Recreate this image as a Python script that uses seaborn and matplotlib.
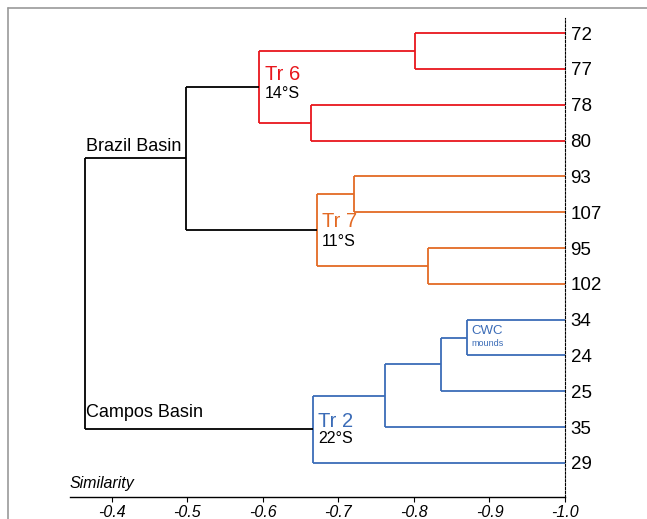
import matplotlib
matplotlib.use('Agg')
import matplotlib.pyplot as plt
import seaborn as sns
from matplotlib.lines import Line2D

# Leaves, top to bottom
leaves = ['72', '77', '78', '80', '93', '107', '95', '102', '34', '24', '25', '35', '29']

# Merges (scipy-like: leaves are 0..12, new nodes get 13, 14, ...)
merge_a = [0, 2, 13, 4, 6, 16, 15, 8, 20, 21, 22, 19]
merge_b = [1, 3, 14, 5, 7, 17, 18, 9, 10, 11, 12, 23]
merge_sim = [-0.801, -0.663, -0.595, -0.720, -0.818, -0.671, -0.498,
             -0.870, -0.836, -0.761, -0.666, -0.364]
merge_group = ['Tr6', 'Tr6', 'Tr6', 'Tr7', 'Tr7', 'Tr7', 'none',
               'Tr2', 'Tr2', 'Tr2', 'Tr2', 'none']

group_colors = {'Tr6': '#e8161c', 'Tr7': '#e36a24', 'Tr2': '#3b6cb7', 'none': 'black'}

x_ticks = [-0.4, -0.5, -0.6, -0.7, -0.8, -0.9, -1.0]

sns.set_theme(style='white')
plt.rcParams['font.family'] = ['Liberation Sans', 'DejaVu Sans']
plt.rcParams['text.color'] = 'black'
plt.rcParams['xtick.color'] = 'black'
plt.rcParams['ytick.color'] = 'black'

fig = plt.figure(figsize=(6.47, 5.19), dpi=100)
ax = fig.add_axes([70 / 647, 1 - 497 / 519, 495 / 647, 479 / 519])

# positions of every node
n = len(leaves)
pos_x = {i: -1.0 for i in range(n)}
pos_y = {i: float(i) for i in range(n)}
for k, (a, b, s) in enumerate(zip(merge_a, merge_b, merge_sim)):
    node = n + k
    pos_x[node] = s
    pos_y[node] = (pos_y[a] + pos_y[b]) / 2

    c = group_colors[merge_group[k]]
    ax.plot([s, s], [pos_y[a], pos_y[b]], color=c, lw=1.3, solid_capstyle='butt')
    for child in (a, b):
        ax.plot([s, pos_x[child]], [pos_y[child], pos_y[child]], color=c, lw=1.3,
                solid_capstyle='butt')

ax.set_xlim(-0.3445, -1.0)
ax.set_ylim(12.95, -0.42)

# leaf labels on the right
ax.yaxis.tick_right()
ax.set_yticks(range(n))
ax.set_yticklabels(leaves, fontsize=13.5)
ax.tick_params(axis='y', length=0, pad=4)

ax.set_xticks(x_ticks)
ax.set_xticklabels([f'{t:.1f}' for t in x_ticks], fontsize=11.5, style='italic')
ax.tick_params(axis='x', bottom=True, length=3.5, width=0.8, pad=2.5)

for side in ['left', 'top']:
    ax.spines[side].set_visible(False)
ax.spines['bottom'].set_color('black')
ax.spines['bottom'].set_linewidth(1.0)
ax.spines['right'].set_color('black')
ax.spines['right'].set_linewidth(0.8)
ax.spines['right'].set_linestyle((0, (2, 1.5)))

ax.text(0.0, 0.012, 'Similarity', transform=ax.transAxes, fontsize=11.5,
        style='italic', ha='left', va='bottom')

# cluster annotations
def node_label(node, title, sub, color, dy_title, dy_sub):
    ax.annotate(title, (pos_x[node], pos_y[node]), xytext=(4, dy_title), textcoords='offset points',
                color=color, fontsize=14.5, ha='left', va='center')
    ax.annotate(sub, (pos_x[node], pos_y[node]), xytext=(4, dy_sub), textcoords='offset points',
                color='black', fontsize=11.5, ha='left', va='center')

node_label(15, 'Tr 6', '14°S', group_colors['Tr6'], 8.5, -5)
node_label(18, 'Tr 7', '11°S', group_colors['Tr7'], 6.5, -8.5)
node_label(23, 'Tr 2', '22°S', group_colors['Tr2'], 6, -6.5)

ax.annotate('CWC', (pos_x[20], pos_y[20]), xytext=(3.5, 4.5), textcoords='offset points',
            color=group_colors['Tr2'], fontsize=9.5, ha='left', va='center')
ax.annotate('mounds', (pos_x[20], pos_y[20]), xytext=(3.5, -4.5), textcoords='offset points',
            color=group_colors['Tr2'], fontsize=6.5, ha='left', va='center')

ax.annotate('Brazil Basin', (pos_x[24], pos_y[19]), xytext=(1, 8.5), textcoords='offset points',
            fontsize=13, ha='left', va='center')
ax.annotate('Campos Basin', (pos_x[24], pos_y[23]), xytext=(1, 12), textcoords='offset points',
            fontsize=13, ha='left', va='center')

for a in ax.texts:
    a.set_clip_on(False)

# grey page frame
fig.add_artist(Line2D([8 / 647, 8 / 647], [0, 1 - 8 / 519], color='#999999', lw=1.2))
fig.add_artist(Line2D([8 / 647, 1], [1 - 8 / 519, 1 - 8 / 519], color='#999999', lw=1.2))

fig.savefig('out.png', dpi=100)
